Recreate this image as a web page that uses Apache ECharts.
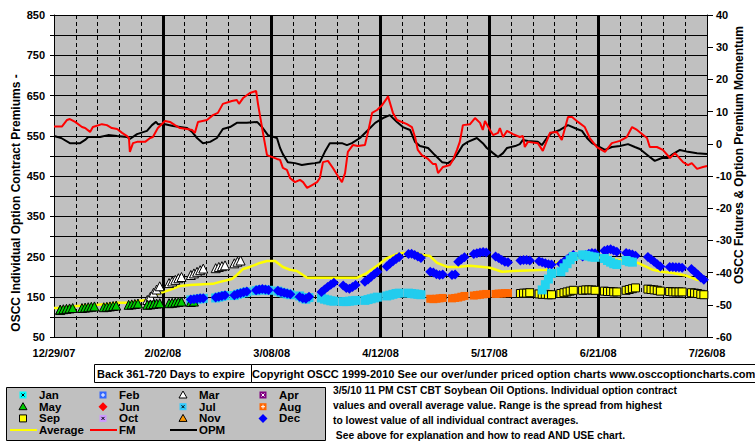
<!DOCTYPE html>
<html><head><meta charset="utf-8">
<script src="https://cdn.jsdelivr.net/npm/echarts/dist/echarts.min.js"></script>
<style>html,body{margin:0;padding:0;background:#fff}#c{width:755px;height:446px}</style>
</head><body><div id="c"></div>
<script>
// ---------------- DATA ----------------
const xLabels = ['12/29/07','2/02/08','3/08/08','4/12/08','5/17/08','6/21/08','7/26/08']; // every 35 days
const leftTicks = [850,750,650,550,450,350,250,150,50];
const rightTicks = [40,30,20,10,0,-10,-20,-30,-40,-50,-60];

// FM (futures momentum), [day since 12/29/07, momentum]
const fm = [[0,5.4],[2.6,5.4],[4.2,7.4],[5.1,7.7],[6.8,6.8],[9,5.2],[10,4.9],[11.6,3.7],[12.5,5.2],[15.4,6.1],[17,5.8],[18.6,4.9],[20.3,4.6],[21.9,3.4],[23.5,2.4],[24.1,1.8],[24.4,-2.5],[25.4,0.2],[26.7,0.6],[29.3,0.6],[30.9,1.8],[31.8,2.1],[33.4,4.9],[35.7,7.1],[37.3,6.8],[38.9,5.8],[40.5,4.9],[42.8,4.6],[44.4,4.3],[45.3,3.4],[46.3,6.8],[49.2,7.4],[51.1,8.9],[52.7,9.6],[54.3,12.4],[57.2,13.3],[58.8,13.6],[59.5,12.4],[60.8,14.2],[63,15.8],[65,16.4],[65.6,12.4],[67.2,3.4],[68.5,-3.5],[71.7,-4.7],[72.7,-5.0],[73.6,-7.5],[74.9,-8.1],[75.9,-10.6],[77.5,-11.9],[79.1,-11.2],[80.1,-11.9],[81.4,-13.7],[83,-12.8],[84.6,-11.9],[85.5,-10.6],[86.5,-5.7],[88.1,-5.3],[89.7,-7.5],[91.3,-10.0],[92.6,-11.9],[93.6,-9.1],[94.5,-2.5],[96.1,-0.4],[97.7,-0.7],[100,-0.4],[101,3.7],[102.3,9.6],[103.9,10.5],[105.5,12.0],[107.1,14.2],[107.4,14.8],[109,9.6],[110.3,7.4],[113.5,6.1],[115.1,5.2],[116.1,2.1],[117,-1.9],[118.3,-3.5],[120.3,-4.7],[121.9,-6.3],[122.8,-6.3],[123.5,-9.1],[125.1,-7.2],[127.3,-6.6],[128.3,-5.0],[129.6,-1.9],[130.5,0.6],[131.5,5.8],[133.8,6.1],[135.4,8.0],[137,6.5],[137.9,4.3],[138.6,7.1],[140.2,4.3],[141.2,2.7],[142.8,3.4],[143.4,4.9],[144.4,2.1],[145.7,4.0],[147.6,3.0],[149.8,2.1],[150.8,2.4],[151.4,-1.0],[152.4,0.6],[155.6,0.2],[157.2,-2.2],[159.5,3.4],[161.7,3.7],[163.3,1.2],[165.3,8.3],[166.6,8.3],[168.5,6.8],[170.7,5.2],[172.3,1.8],[174.6,-1.0],[177.2,-2.5],[179.4,0.2],[182,0.9],[184.2,2.1],[185.9,5.2],[187.5,4.3],[190.7,1.8],[191.6,-1.0],[193.9,-1.0],[195.8,-1.9],[198.1,-4.4],[199.7,-2.9],[202.3,-5.7],[203.9,-6.6],[205.1,-6.0],[206.8,-7.8],[208.7,-7.2],[210,-6.9]];

// OPM (option premium momentum)
const opm = [[0,2.4],[2.3,1.8],[5.1,0.2],[8.4,0.2],[10,1.2],[11,2.1],[14.8,2.1],[17.4,2.7],[20.3,2.4],[23.5,2.1],[24.4,1.5],[26.7,3.0],[29.9,4.0],[31.5,5.8],[32.8,6.8],[33.4,6.1],[35.7,6.1],[38.3,5.5],[42.8,4.9],[44.4,3.7],[46,1.8],[47.9,0.2],[50.2,0.6],[52.4,1.8],[54.3,4.6],[56.6,5.2],[58.8,6.5],[62,6.5],[65.3,6.8],[66.9,5.2],[68.8,2.7],[71.7,1.8],[72.7,-1.3],[73.6,-3.2],[75.2,-5.7],[77.5,-6.0],[79.7,-6.6],[81.7,-6.3],[83.9,-6.0],[85.5,-5.7],[87.1,-2.5],[88.7,0.2],[92.6,0.2],[94.2,-0.4],[95.8,0.2],[98.4,1.8],[101,4.3],[103.3,6.5],[105.8,8.0],[108,8.9],[110.3,6.8],[112.2,5.2],[114.5,4.3],[116.1,0.6],[117.7,-0.7],[120.3,-1.3],[122.5,-3.5],[124.8,-5.7],[126.7,-6.0],[128.3,-5.0],[129.9,-2.9],[131.5,-0.4],[133.1,0.6],[136,1.8],[137.9,0.2],[139.2,-1.3],[141.2,-2.9],[142.8,-4.1],[144.4,-2.9],[145.7,-1.3],[148.3,-0.7],[149.8,-0.1],[150.8,1.2],[152.4,0.9],[155.6,0.6],[156.9,-0.4],[158.5,1.8],[160.1,3.4],[162.7,4.3],[165.3,5.8],[168.2,4.6],[169.8,4.0],[171.4,1.8],[173,0.2],[174.9,-0.7],[177.2,-1.9],[179.4,-1.0],[182,-0.7],[184.6,-0.1],[186.8,-1.0],[188.4,-1.6],[191.6,-4.1],[193.2,-5.3],[195.5,-4.4],[197.4,-4.4],[199,-3.2],[201.3,-1.9],[203.9,-2.5],[206.8,-2.9],[210,-3.2]];

// Average of individual contracts (premium)
const average = [[0,122],[1,122],[7.4,127],[14.1,130],[17.4,132],[20.3,135],[24.4,135],[27.7,140],[29.9,142],[31.8,152],[34.1,159],[37.3,167],[40.5,177],[43.7,179],[51.1,182],[53.4,187],[57.2,194],[58.8,204],[60.8,219],[63,224],[66.2,234],[68.5,239],[71.1,239],[73.6,224],[75.9,217],[78.1,214],[81.4,197],[88.7,197],[97.4,197],[100.6,209],[103.9,227],[107.1,246],[110.3,256],[112.2,259],[116.7,259],[118.6,254],[120.9,251],[123.2,234],[126.4,224],[129.6,224],[133.8,227],[137.9,224],[140.2,222],[144.1,212],[147.6,214],[158.5,217],[160.1,229],[162.7,237],[166.9,246],[172.3,249],[177.8,246],[182,241],[184.6,239],[187.8,234],[192.6,217],[195.5,212],[199,209],[203.5,202],[206.8,192],[210,189]];

// Individual contract premiums, [trading day, premium]
const marData = [[2,117],[30,142],[31,150],[32,160],[33,168],[34,176],[37,184],[38,188],[39,192],[40,196],[41,199],[44,204],[45,208],[46,212],[47,216],[48,220],[52,221],[53,224],[54,226],[55,228],[58,233],[59,237],[60,240]];
const mayData = [[2,118],[3,119],[4,120],[5,121],[6,122],[9,122],[10,123],[11,124],[12,125],[13,126],[16,124],[17,125],[18,126],[19,127],[20,128],[24,130],[25,131],[26,132],[27,133],[30,130],[31,131],[32,132],[33,133],[34,134],[37,134],[38,135],[39,136],[40,137],[41,138],[44,137],[45,138]];
const julData = [[44,142],[45,143],[46,144],[47,145],[48,146],[52,147],[53,149],[54,151],[55,153],[58,153],[59,156],[60,158],[61,160],[62,162],[65,165],[66,167],[67,168],[68,167],[69,166],[72,164],[73,161],[74,159],[75,157],[76,155],[79,152],[80,147],[81,144],[82,148],[86,147],[87,144],[88,142],[89,140],[90,139],[93,138],[94,138],[95,139],[96,140],[97,141],[100,141],[101,143],[102,145],[103,147],[104,149],[107,152],[108,154],[109,156],[110,158],[111,159],[114,159],[115,158],[116,157],[117,156],[118,155]];
const augData = [[121,145],[122,144],[123,145],[124,146],[125,147],[128,146],[129,147],[130,148],[131,150],[132,152],[135,153],[136,154],[137,155],[138,156],[139,157],[142,157],[143,158],[144,158],[145,159],[146,159]];
const sepData = [[150,158],[151,159],[152,159],[153,160],[156,157],[157,156],[158,156],[159,155],[160,155],[163,158],[164,160],[165,162],[166,164],[167,166],[170,166],[171,167],[172,167],[173,167],[174,166],[177,164],[178,163],[179,163],[180,162],[181,162],[184,166],[185,168],[186,170],[187,172],[191,169],[192,168],[193,167],[194,166],[195,164],[198,163],[199,162],[200,162],[201,162],[202,162],[205,160],[206,159],[207,158],[208,156],[209,155]];
const janData = [[157,167],[158,180],[159,194],[160,208],[163,212],[164,222],[165,232],[166,242],[167,250],[170,254],[171,253],[172,251],[173,249],[174,248],[177,245],[178,240],[179,236],[180,232],[181,230],[184,240],[185,237],[186,236]];
const decData = [[44,143],[45,144],[46,145],[47,146],[48,146],[52,148],[53,150],[54,152],[55,154],[58,154],[59,157],[60,159],[61,161],[62,163],[65,166],[66,168],[67,169],[68,168],[69,167],[72,165],[73,162],[74,160],[75,158],[76,156],[79,150],[80,146],[81,145],[82,150],[86,162],[87,168],[88,174],[89,180],[90,185],[93,178],[94,172],[95,170],[96,174],[97,179],[100,187],[101,193],[102,200],[103,206],[104,212],[107,225],[108,232],[109,238],[110,244],[111,249],[114,256],[115,257],[116,254],[117,250],[118,246],[121,212],[122,210],[123,206],[124,204],[125,205],[128,204],[129,205],[130,237],[131,243],[132,248],[135,256],[136,258],[137,260],[138,261],[139,260],[142,250],[143,246],[144,241],[145,237],[146,236],[150,240],[151,241],[152,241],[153,240],[156,238],[157,236],[158,233],[159,231],[160,230],[163,232],[164,237],[165,243],[166,249],[167,254],[170,250],[171,254],[172,257],[173,259],[174,258],[177,264],[178,267],[179,268],[180,265],[181,262],[184,259],[185,257],[186,255],[187,252],[191,249],[192,243],[193,237],[194,231],[195,225],[198,224],[199,224],[200,223],[201,223],[202,222],[205,219],[206,212],[207,205],[208,198],[209,192]];

const legendNames = ['Jan','Feb','Mar','Apr','May','Jun','Jul','Aug','Sep','Oct','Nov','Dec'];
const lineLegendNames = ['Average','FM','OPM'];
const titleLeft = 'OSCC Individual Option Contract Premiums -';
const titleRight = 'OSCC Futures & Option Premium Momentum';
const boxText = 'Back 361-720 Days to expire';
const copyText = 'Copyright OSCC 1999-2010 See our over/under priced option charts www.osccoptioncharts.com';
const noteLines = ['3/5/10 11 PM CST CBT Soybean Oil Options. Individual option contract',
  'values and overall average value. Range is the spread from highest',
  'to lowest value of all individual contract averages.',
  ' See above for explanation and how to read AND USE chart.'];

// ---------------- STYLE ----------------
const FONT = '"Liberation Sans", Arial, sans-serif';
const sym = {
  Jan:{s:'sq',c:'#00FFFF',m:'x'}, Feb:{s:'sq',c:'#3366FF',m:'+'}, Mar:{s:'tri',c:'#FFFFFF'}, Apr:{s:'sq',c:'#800080',m:'x'},
  May:{s:'tri',c:'#00CC00'}, Jun:{s:'dia',c:'#FF0000'}, Jul:{s:'sq',c:'#33CCFF',m:'x'}, Aug:{s:'sq',c:'#FF6600',m:'+'},
  Sep:{s:'sq',c:'#FFFF00',b:'#000'}, Oct:{s:'sq',c:'#CC99FF',m:'x'}, Nov:{s:'tri',c:'#FF9900'}, Dec:{s:'dia',c:'#0000FF'}
};
const lineCol = {Average:'#FFFF00', FM:'#FF0000', OPM:'#000000'};

const chart = echarts.init(document.getElementById('c'), null, {renderer:'svg'});

function legendMarker(name, cx, cy){
  const d = sym[name]; const els = [];
  if (d.s === 'sq') {
    els.push({type:'rect', shape:{x:cx-3.5,y:cy-3.5,width:7,height:7}, style:{fill:d.c, stroke:d.b||null, lineWidth:1}});
    if (d.m === 'x') {
      const mc = (d.c==='#800080')?'#fff':'#000';
      els.push({type:'line', shape:{x1:cx-1.5,y1:cy-1.5,x2:cx+1.5,y2:cy+1.5}, style:{stroke:mc,lineWidth:1}});
      els.push({type:'line', shape:{x1:cx-1.5,y1:cy+1.5,x2:cx+1.5,y2:cy-1.5}, style:{stroke:mc,lineWidth:1}});
    } else if (d.m === '+') {
      els.push({type:'line', shape:{x1:cx-2,y1:cy,x2:cx+2,y2:cy}, style:{stroke:'#fff',lineWidth:1}});
      els.push({type:'line', shape:{x1:cx,y1:cy-2,x2:cx,y2:cy+2}, style:{stroke:'#fff',lineWidth:1}});
    }
  } else if (d.s === 'tri') {
    els.push({type:'polygon', shape:{points:[[cx,cy-4],[cx+4,cy+3],[cx-4,cy+3]]}, style:{fill:d.c, stroke:'#000', lineWidth:1}});
  } else {
    els.push({type:'polygon', shape:{points:[[cx,cy-4.5],[cx+4.5,cy],[cx,cy+4.5],[cx-4.5,cy]]}, style:{fill:d.c}});
  }
  return els;
}

const graphics = [];
const tfont = 'bold 12px ' + FONT;
const sfont = 'bold 11px ' + FONT;
const lfont = 'bold 11.5px ' + FONT;
const cfont = 'bold 11px ' + FONT;
const nfont = 'bold 10.3px ' + FONT;
// axis titles
graphics.push({type:'text', x:16, y:203, rotation:Math.PI/2, style:{text:titleLeft, font:tfont, fill:'#000', align:'center', verticalAlign:'middle'}});
graphics.push({type:'text', x:739, y:155, rotation:Math.PI/2, style:{text:titleRight, font:tfont, fill:'#000', align:'center', verticalAlign:'middle'}});
// header boxes
graphics.push({type:'rect', shape:{x:94.5,y:364.5,width:157,height:18}, style:{fill:'#fff', stroke:'#000', lineWidth:1}});
graphics.push({type:'text', x:97, y:374, style:{text:boxText, font:sfont, fill:'#000', align:'left', verticalAlign:'middle'}});
graphics.push({type:'rect', shape:{x:251.5,y:364.5,width:520,height:18}, style:{fill:'#fff', stroke:'#000', lineWidth:1}});
graphics.push({type:'text', x:252, y:374, style:{text:copyText, font:cfont, fill:'#000', align:'left', verticalAlign:'middle'}});
// legend box
graphics.push({type:'rect', shape:{x:6.5,y:387.5,width:319,height:53}, style:{fill:'#C0C0C0', stroke:'#000', lineWidth:1}});
legendNames.forEach((n,i)=>{
  const col = i%4, row = Math.floor(i/4);
  const cx = 23 + col*80, cy = 395 + row*11.7;
  legendMarker(n, cx, cy).forEach(e=>graphics.push(e));
  graphics.push({type:'text', x:cx+16, y:cy, style:{text:n, font:lfont, fill:'#000', align:'left', verticalAlign:'middle'}});
});
lineLegendNames.forEach((n,i)=>{
  const x0 = 10 + i*80, cy = 430;
  graphics.push({type:'line', shape:{x1:x0,y1:cy,x2:x0+27,y2:cy}, style:{stroke:lineCol[n], lineWidth:2}});
  graphics.push({type:'text', x:x0+29, y:cy, style:{text:n, font:lfont, fill:'#000', align:'left', verticalAlign:'middle'}});
});
noteLines.forEach((t,i)=>{
  graphics.push({type:'text', x:333, y:390+i*15, style:{text:t, font:nfont, fill:'#000', align:'left', verticalAlign:'middle'}});
});

function scatter(name, data, symbol, size, color, border){
  return {name, type:'scatter', yAxisIndex:0, data, symbol, symbolSize:size, animation:false,
    itemStyle:{color, borderColor:border||color, borderWidth:border?1:0, opacity:1}, z:3};
}

const option = {
  animation:false,
  backgroundColor:'#fff',
  textStyle:{fontFamily:FONT},
  grid:{left:54, right:48, top:15, bottom:109, show:true, backgroundColor:'#C0C0C0', borderWidth:0, containLabel:false, outerBoundsMode:'none'},
  xAxis:{type:'value', min:0, max:210, interval:35,
    axisLine:{show:true, onZero:false, lineStyle:{color:'#000', width:1}},
    axisTick:{show:true, inside:true, length:5, lineStyle:{color:'#000'}},
    minorTick:{show:true, splitNumber:5, length:3, lineStyle:{color:'#000'}},
    axisLabel:{color:'#000', fontWeight:'bold', fontSize:11, fontFamily:FONT, margin:10,
      formatter:v=>xLabels[Math.round(v/35)]},
    splitLine:{show:true, showMinLine:false, showMaxLine:false, lineStyle:{color:'#000', width:3, type:'solid'}},
    minorSplitLine:{show:true, lineStyle:{color:'#000', width:1, type:[4,3]}}
  },
  yAxis:[
    {type:'value', min:50, max:850, interval:50, position:'left',
      axisLine:{show:true, onZero:false, lineStyle:{color:'#000'}},
      axisTick:{show:true, length:4, lineStyle:{color:'#000'}},
      axisLabel:{color:'#000', fontWeight:'bold', fontSize:11, fontFamily:FONT, margin:9,
        formatter:v=>leftTicks.indexOf(v)>=0?String(v):''},
      splitLine:{show:true, lineStyle:{color:'#000', width:1}}
    },
    {type:'value', min:-60, max:40, interval:10, position:'right',
      axisLine:{show:true, onZero:false, lineStyle:{color:'#000'}},
      axisTick:{show:true, length:6, lineStyle:{color:'#000'}},
      axisLabel:{color:'#000', fontWeight:'bold', fontSize:11, fontFamily:FONT, margin:9,
        formatter:v=>rightTicks.indexOf(v)>=0?String(v):''},
      splitLine:{show:false}
    }
  ],
  series:[
    {name:'Average', type:'line', yAxisIndex:0, data:average, symbol:'none', lineStyle:{color:'#FFFF00', width:2.5}, z:2},
    scatter('Jul', julData, 'rect', 9, '#22CCEE'),
    scatter('Aug', augData, 'rect', 8, '#FF6600'),
    scatter('Sep', sepData, 'rect', 8, '#FFFF00', '#000'),
    scatter('Mar', marData, 'triangle', 9, '#FFFFFF', '#000'),
    scatter('May', mayData, 'triangle', 9, '#00CC00', '#000'),
    scatter('Dec', decData, 'diamond', 10, '#0000FF'),
    scatter('Jan', janData, 'rect', 9, '#22D4F0'),
    {name:'OPM', type:'line', yAxisIndex:1, data:opm, symbol:'none', lineStyle:{color:'#000', width:2}, z:4},
    {name:'FM', type:'line', yAxisIndex:1, data:fm, symbol:'none', lineStyle:{color:'#FF0000', width:2}, z:5}
  ],
  graphic:graphics
};
chart.setOption(option);
</script>
</body></html>
